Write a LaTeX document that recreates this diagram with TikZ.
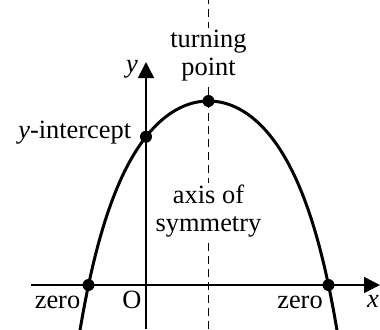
\documentclass[tikz,border=0pt]{standalone}
\usepackage{fontspec}
\setmainfont{Liberation Serif}
\usetikzlibrary{arrows.meta,positioning}

\begin{document}
\begin{tikzpicture}[x=0.5pt,y=0.5pt,
    axisline/.style={line width=0.75pt,-{Triangle[length=8pt,width=8pt]}},
    curveline/.style={line width=1.5pt},
    symline/.style={line width=0.7pt,dash pattern=on 4pt off 2.5pt},
    dotpt/.style={circle,fill=black,inner sep=0pt,minimum size=6pt},
    lbl/.style={font=\fontsize{13.2}{14.2}\selectfont,inner sep=0pt}]
\useasboundingbox (-146,-44) rectangle (234,285);

\coordinate (O) at (0,0);
\coordinate (xstart) at (-115,0);
\coordinate (xend) at (234,0);
\coordinate (ystart) at (0,-44);
\coordinate (yend) at (0,223);
\coordinate (stop) at (62.5,285);
\coordinate (sbot) at (62.5,-44);

% axis of symmetry and axes
\draw[symline] (sbot) -- (stop);
\draw[axisline] (xstart) -- (xend);
\draw[axisline] (ystart) -- (yend);

% the parabola
\begin{scope}
\clip (-146,-44) rectangle (234,285);
\draw[curveline,domain=-130:130,samples=120,variable=\t]
    plot ({62.5+\t},{184-278.1*(1/cos(\t*53/120)-1)});
\end{scope}

\node[dotpt] (tp) at (62.5,184) {};
\node[dotpt] (yint) at (0,148.3) {};
\node[dotpt] (zl) at (-57.5,0) {};
\node[dotpt] (zr) at (182.5,0) {};

% labels
\node[lbl,anchor=base] (ylbl) at (-14,213) {\textit{y}};
\node[lbl,anchor=base] (xlbl) at (227,-22) {\textit{x}};
\node[lbl,align=center,fill=white,inner sep=1pt,above=5.5pt of tp] (tplbl) {turning\\point};
\node[lbl,left=4pt of yint,yshift=2pt] (yintlbl) {\textit{y}-intercept};
\node[lbl,align=center,fill=white,inner sep=1pt] (symlbl) at (62.5,74) {axis of\\symmetry};
\node[lbl,anchor=base] (zllbl) at (-88.5,-23) {zero};
\node[lbl,anchor=base] (olbl) at (-14,-23) {O};
\node[lbl,anchor=base] (zrlbl) at (154,-23) {zero};
\end{tikzpicture}
\end{document}
